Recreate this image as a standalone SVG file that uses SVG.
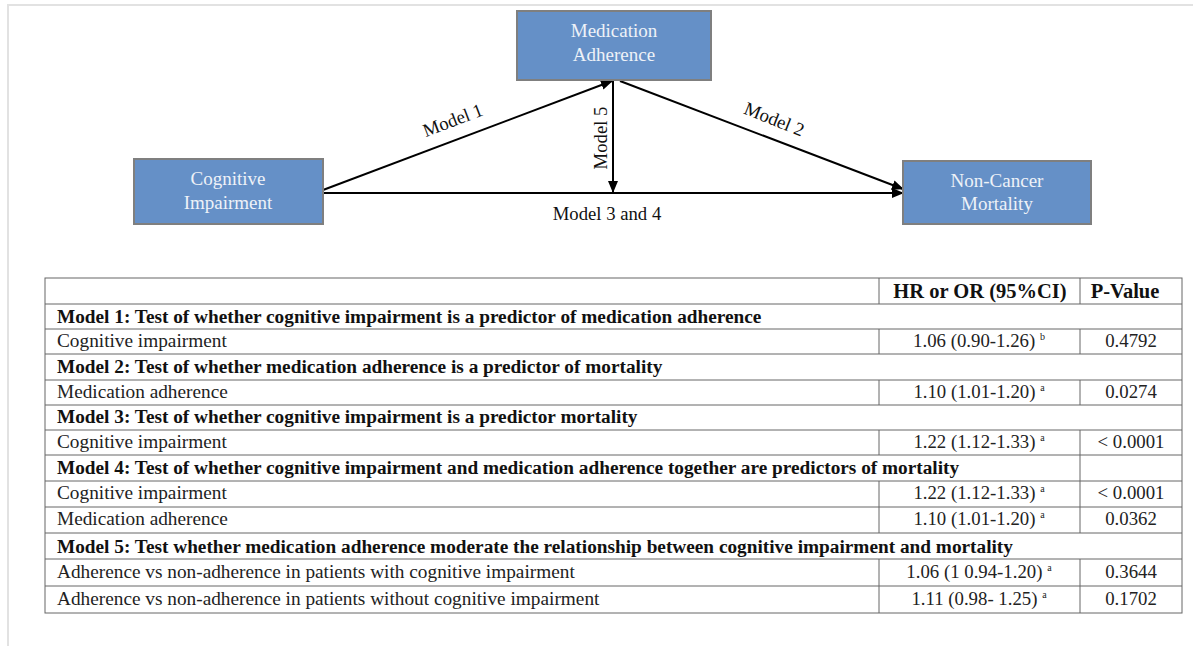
<svg xmlns="http://www.w3.org/2000/svg" width="1193" height="646" viewBox="0 0 1193 646">
<defs>
<style>
.node rect{fill:#6590c7;stroke:#7f7f7f;stroke-width:2}
.node text{font-family:"Liberation Serif",serif;font-size:19px;fill:#eef2f8;text-anchor:middle}
.edge{stroke:#000;stroke-width:2;fill:none}
.lbl{font-family:"Liberation Serif",serif;font-size:18.7px;fill:#111}
.t{font-family:"Liberation Serif",serif;font-size:19.3px;fill:#222}
.b{font-family:"Liberation Serif",serif;font-size:19.3px;font-weight:bold;fill:#111}
.h{font-size:20.5px}
.c{text-anchor:middle}
.v{font-size:18.8px}
.sup{font-size:10px}
.grid{stroke:#666;stroke-width:1;fill:none}
</style>
<marker id="ah" viewBox="0 0 12 10" refX="11" refY="5" markerWidth="12" markerHeight="10" markerUnits="userSpaceOnUse" orient="auto">
<path d="M0,0 L12,5 L0,10 Z" fill="#000"/>
</marker>
</defs>
<rect width="1193" height="646" fill="#fff"/>
<path d="M8,646 V5 H1193" stroke="#e2e2e2" stroke-width="2" fill="none"/>

<g id="connectors">
<line class="edge" x1="323" y1="190" x2="612" y2="81" marker-end="url(#ah)"/>
<line class="edge" x1="620" y1="81" x2="903" y2="189" marker-end="url(#ah)"/>
<line class="edge" x1="613" y1="81" x2="613" y2="192" marker-end="url(#ah)"/>
<line class="edge" x1="323" y1="193" x2="903" y2="193" marker-end="url(#ah)"/>
<text class="lbl c" transform="translate(455,126) rotate(-20.8)">Model 1</text>
<text class="lbl c" transform="translate(772,125) rotate(21.8)">Model 2</text>
<text class="lbl c" transform="translate(607,138) rotate(-90)">Model 5</text>
<text class="lbl c" x="607" y="220">Model 3 and 4</text>
</g>

<g id="node-medication" class="node">
<rect x="517" y="11" width="194" height="69"/>
<text x="614" y="37">Medication</text>
<text x="614" y="61">Adherence</text>
</g>
<g id="node-cognitive" class="node">
<rect x="134" y="159" width="189" height="65"/>
<text x="228" y="185">Cognitive</text>
<text x="228" y="209">Impairment</text>
</g>
<g id="node-mortality" class="node">
<rect x="903" y="161" width="188" height="63"/>
<text x="997" y="187">Non-Cancer</text>
<text x="997" y="210">Mortality</text>
</g>

<g id="table">
<rect class="grid" x="45" y="278" width="1137" height="335" stroke="#555"/>
<g class="grid">
<line x1="45" y1="304" x2="1182" y2="304"/>
<line x1="45" y1="329" x2="1182" y2="329"/>
<line x1="45" y1="354" x2="1182" y2="354"/>
<line x1="45" y1="380" x2="1182" y2="380"/>
<line x1="45" y1="405" x2="1182" y2="405"/>
<line x1="45" y1="430" x2="1182" y2="430"/>
<line x1="45" y1="455" x2="1182" y2="455"/>
<line x1="45" y1="481" x2="1182" y2="481"/>
<line x1="45" y1="507" x2="1182" y2="507"/>
<line x1="45" y1="533" x2="1182" y2="533"/>
<line x1="45" y1="559" x2="1182" y2="559"/>
<line x1="45" y1="586" x2="1182" y2="586"/>
<line x1="879" y1="278" x2="879" y2="304"/>
<line x1="1080" y1="278" x2="1080" y2="304"/>
<line x1="879" y1="329" x2="879" y2="354"/>
<line x1="1080" y1="329" x2="1080" y2="354"/>
<line x1="879" y1="380" x2="879" y2="405"/>
<line x1="1080" y1="380" x2="1080" y2="405"/>
<line x1="879" y1="430" x2="879" y2="455"/>
<line x1="1080" y1="430" x2="1080" y2="455"/>
<line x1="1080" y1="455" x2="1080" y2="481"/>
<line x1="879" y1="481" x2="879" y2="533"/>
<line x1="1080" y1="481" x2="1080" y2="533"/>
<line x1="879" y1="559" x2="879" y2="613"/>
<line x1="1080" y1="559" x2="1080" y2="613"/>
</g>
<text class="b c h" x="980" y="298">HR or OR (95%CI)</text>
<text class="b c h" x="1125" y="298">P-Value</text>

<text class="b" x="57" y="323">Model 1: Test of whether cognitive impairment is a predictor of medication adherence</text>
<text class="t" x="57" y="347">Cognitive impairment</text>
<text class="t c v" x="979" y="347">1.06 (0.90-1.26) <tspan class="sup" dy="-7">b</tspan></text>
<text class="t c v" x="1131" y="347">0.4792</text>

<text class="b" x="57" y="373">Model 2: Test of whether medication adherence is a predictor of mortality</text>
<text class="t" x="57" y="398">Medication adherence</text>
<text class="t c v" x="979" y="398">1.10 (1.01-1.20) <tspan class="sup" dy="-7">a</tspan></text>
<text class="t c v" x="1131" y="398">0.0274</text>

<text class="b" x="57" y="423">Model 3: Test of whether cognitive impairment is a predictor mortality</text>
<text class="t" x="57" y="448">Cognitive impairment</text>
<text class="t c v" x="979" y="448">1.22 (1.12-1.33) <tspan class="sup" dy="-7">a</tspan></text>
<text class="t c v" x="1131" y="448">&lt; 0.0001</text>

<text class="b" x="57" y="474">Model 4: Test of whether cognitive impairment and medication adherence together are predictors of mortality</text>
<text class="t" x="57" y="499">Cognitive impairment</text>
<text class="t c v" x="979" y="499">1.22 (1.12-1.33) <tspan class="sup" dy="-7">a</tspan></text>
<text class="t c v" x="1131" y="499">&lt; 0.0001</text>
<text class="t" x="57" y="525">Medication adherence</text>
<text class="t c v" x="979" y="525">1.10 (1.01-1.20) <tspan class="sup" dy="-7">a</tspan></text>
<text class="t c v" x="1131" y="525">0.0362</text>

<text class="b" x="57" y="553">Model 5: Test whether medication adherence moderate the relationship between cognitive impairment and mortality</text>
<text class="t" x="57" y="578">Adherence vs non-adherence in patients with cognitive impairment</text>
<text class="t c v" x="979" y="578">1.06 (1 0.94-1.20) <tspan class="sup" dy="-7">a</tspan></text>
<text class="t c v" x="1131" y="578">0.3644</text>
<text class="t" x="57" y="605">Adherence vs non-adherence in patients without cognitive impairment</text>
<text class="t c v" x="979" y="605">1.11 (0.98- 1.25) <tspan class="sup" dy="-7">a</tspan></text>
<text class="t c v" x="1131" y="605">0.1702</text>
</g>
</svg>
